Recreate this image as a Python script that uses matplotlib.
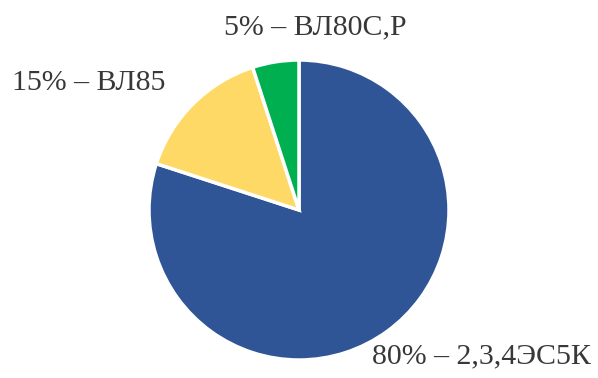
import matplotlib.pyplot as plt

# data
shares = [80, 15, 5]
names = ['2,3,4ЭС5К', 'ВЛ85', 'ВЛ80С,Р']
colors = ['#2F5597', '#FFD966', '#00B050']

fig = plt.figure(figsize=(5.98, 3.78), dpi=100)
ax = fig.add_axes([0, 0, 1, 1])
ax.axis('off')

ax.pie(shares, colors=colors, startangle=90, counterclock=False,
       center=(299, 168), radius=150,
       wedgeprops={'edgecolor': 'white', 'linewidth': 2.5})
ax.set_aspect('equal')
ax.set_xlim(0, 598)
ax.set_ylim(0, 378)

label_pos = [(372, 22), (12, 295), (224, 351)]
for s, n, (x, y) in zip(shares, names, label_pos):
    ax.text(x, y, '{}% – {}'.format(s, n), ha='left', va='center',
            fontsize=21.5, family='Liberation Serif', color='#383838')

fig.savefig('out.png', dpi=100)
